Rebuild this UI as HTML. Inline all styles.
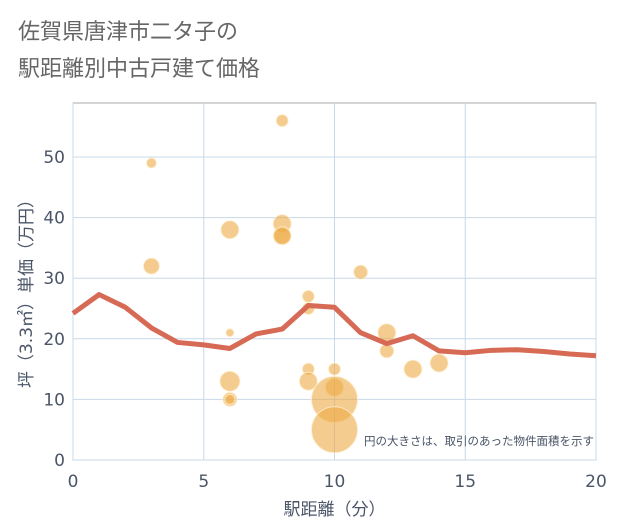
<!DOCTYPE html>
<html><head><meta charset="utf-8"><style>
body{margin:0;background:#fff;font-family:"Liberation Sans","Noto Sans CJK JP",sans-serif;}
#wrap{width:621px;height:530px;position:relative;overflow:hidden;}
</style></head><body>
<div id="wrap">
<svg id="chart" width="621" height="530" xmlns="http://www.w3.org/2000/svg">
<text x="18" y="39" font-size="22" fill="#666" font-family="DejaVu Sans,Noto Sans CJK JP,sans-serif">佐賀県唐津市二タ子の</text>
<text x="18" y="76" font-size="22" fill="#666" font-family="DejaVu Sans,Noto Sans CJK JP,sans-serif">駅距離別中古戸建て価格</text>
</svg>
</div>
<script>
const xTicks=[0,5,10,15,20];
const yTicks=[0,10,20,30,40,50];
const lineX=[0,1,2,3,4,5,6,7,8,9,10,11,12,13,14,15,16,17,18,19,20];
const lineY=[24.2,27.3,25.2,21.8,19.4,19.0,18.4,20.8,21.6,25.5,25.2,21.0,19.2,20.5,18.0,17.7,18.1,18.2,17.9,17.5,17.2];
const bubX=[3,3,6,6,6,6,6,8,8,8,8,9,9,9,9,10,10,10,10,11,12,12,13,14];
const bubY=[49,32,38,21,13,10,10,56,39,37,37,27,25,15,13,15,12,10,5,31,21,18,15,16];
const bubR=[5,8,9,4,10,7,5,6,9,8,9,6,6,6,9,6,9,23,23,7,9,7,9,9];
const L=73,R=596,T=103,B=460;
const sx=v=>L+(R-L)*v/20, sy=v=>B-(B-157)*v/50;
const svg=document.getElementById('chart');const NS='http://www.w3.org/2000/svg';
const FF='DejaVu Sans,Noto Sans CJK JP,sans-serif';
function mk(t,a,p){const e=document.createElementNS(NS,t);for(const k in a)e.setAttribute(k,a[k]);(p||svg).appendChild(e);return e;}
const bg=mk('rect',{x:L,y:T,width:R-L,height:B-T,fill:'#fff',stroke:'#aaa','stroke-width':1});


xTicks.forEach(v=>{const g=mk('line',{x1:sx(v),x2:sx(v),y1:T,y2:B,stroke:'#c8d8e8','stroke-width':1});


const t=mk('text',{x:sx(v),y:B+27,'font-size':17,fill:'#4a5568','text-anchor':'middle','font-family':FF});t.textContent=v;

});
yTicks.forEach(v=>{const g=mk('line',{x1:L,x2:R,y1:sy(v),y2:sy(v),stroke:'#c8d8e8','stroke-width':1});


const t=mk('text',{x:L-8,y:sy(v)+6,'font-size':17,fill:'#4a5568','text-anchor':'end','font-family':FF});t.textContent=v;

});
bubX.forEach((x,i)=>{const c=mk('circle',{cx:sx(x),cy:sy(bubY[i]),r:bubR[i],fill:'rgba(236,170,70,0.6)',stroke:'rgba(255,240,210,0.8)','stroke-width':1});

});
const pl=mk('polyline',{points:lineX.map((x,i)=>sx(x)+','+sy(lineY[i])).join(' '),fill:'none',stroke:'#d66a55','stroke-width':5,'stroke-linejoin':'round'});


const note=mk('text',{x:594,y:445,'font-size':11.5,fill:'#4a5568','text-anchor':'end','font-family':FF});note.textContent='円の大きさは、取引のあった物件面積を示す';


const xt=mk('text',{x:(L+R)/2,y:515,'font-size':17,fill:'#4a5568','text-anchor':'middle','font-family':FF});xt.textContent='駅距離（分）';


const yt=mk('text',{x:0,y:0,'font-size':17,fill:'#4a5568','text-anchor':'middle','font-family':FF,transform:'translate(32,'+((T+B)/2+8)+') rotate(-90)'});yt.textContent='坪（3.3㎡）単価（万円）';


</script>
</body></html>
